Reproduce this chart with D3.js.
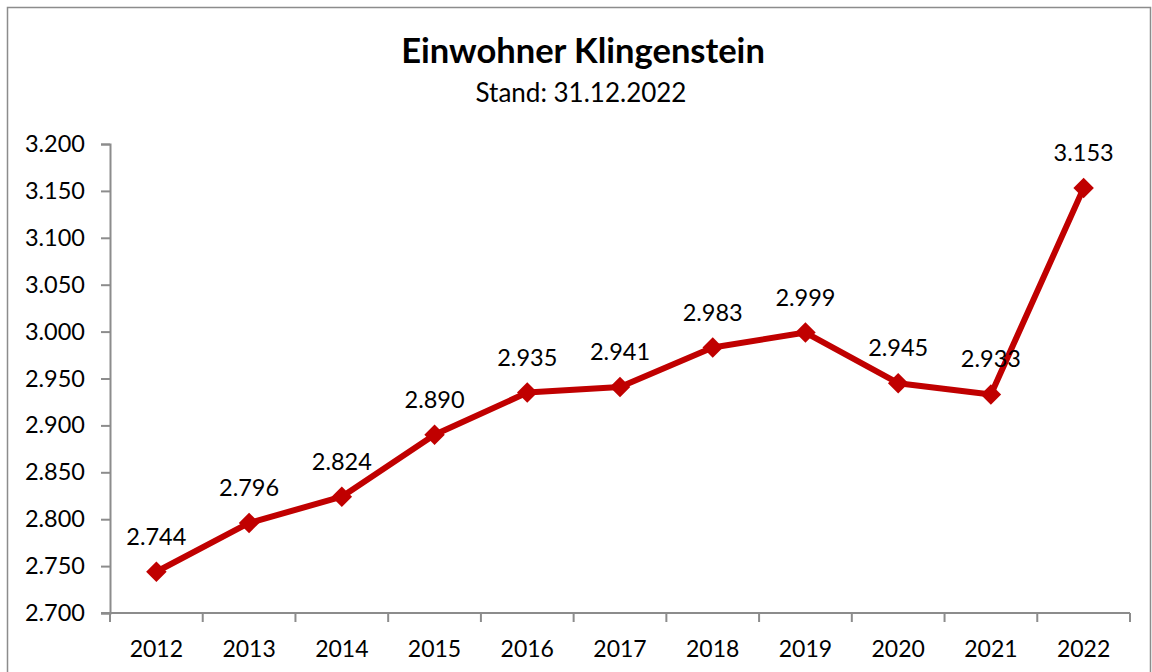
<!DOCTYPE html>
<html>
<head>
<meta charset="utf-8">
<script src="https://cdn.jsdelivr.net/npm/d3@7"></script>
<style>
  body { margin: 0; background: #fff; }
  svg text { font-family: Lato, "Open Sans", sans-serif; fill: #000; }
</style>
</head>
<body>
<script>
// data
var years = ["2012", "2013", "2014", "2015", "2016", "2017", "2018", "2019", "2020", "2021", "2022"];
var einwohner = [2744, 2796, 2824, 2890, 2935, 2941, 2983, 2999, 2945, 2933, 3153];
var yTicks = [2700, 2750, 2800, 2850, 2900, 2950, 3000, 3050, 3100, 3150, 3200];

var width = 1152, height = 672;
var margin = {left: 110, right: 22, top: 144, bottom: 59};

var svg = d3.select("body")
    .append("svg")
    .attr("width", width)
    .attr("height", height);

// outer chart frame (bottom edge is cut off in the picture)
svg.append("path")
    .attr("d", "M7.5," + height + "V7.5H1150.5V" + height)
    .attr("fill", "none")
    .attr("stroke", "#8c8c8c")
    .attr("stroke-width", 1.5);

var x = d3.scaleBand()
    .domain(years)
    .range([margin.left, width - margin.right]);

var y = d3.scaleLinear()
    .domain([2700, 3200])
    .range([height - margin.bottom, margin.top]);

var fmt = function(v) {
    return d3.format(",.0f")(v).replace(",", ".");
};

// title
svg.append("text")
    .attr("x", 583)
    .attr("y", 63)
    .attr("text-anchor", "middle")
    .attr("font-size", "34.5px")
    .attr("font-weight", "bold")
    .text("Einwohner Klingenstein");

svg.append("text")
    .attr("x", 581)
    .attr("y", 102)
    .attr("text-anchor", "middle")
    .attr("font-size", "26px")
    .text("Stand: 31.12.2022");

// y axis
var yAxis = d3.axisLeft(y)
    .tickValues(yTicks)
    .tickFormat(fmt)
    .tickSize(9)
    .tickPadding(16);

var gy = svg.append("g")
    .attr("transform", "translate(" + margin.left + ",0)")
    .call(yAxis);
gy.select(".domain").attr("stroke", "#8c8c8c").attr("stroke-width", 2);
gy.selectAll(".tick line").attr("stroke", "#8c8c8c").attr("stroke-width", 2);
gy.selectAll(".tick text").attr("font-size", "23.5px").attr("font-family", "Lato");

// x axis, ticks sit between categories
var xEdges = years.map(function(d) { return x(d); }).concat([x.range()[1]]);
var gx = svg.append("g")
    .attr("transform", "translate(0," + y(2700) + ")");
gx.append("line")
    .attr("x1", margin.left - 9)
    .attr("x2", x.range()[1])
    .attr("stroke", "#8c8c8c")
    .attr("stroke-width", 2);
gx.selectAll(".xtick")
    .data(xEdges)
    .enter()
    .append("line")
    .attr("x1", function(d) { return d; })
    .attr("x2", function(d) { return d; })
    .attr("y1", 0)
    .attr("y2", 9)
    .attr("stroke", "#8c8c8c")
    .attr("stroke-width", 2);
gx.selectAll(".xlabel")
    .data(years)
    .enter()
    .append("text")
    .attr("x", function(d) { return x(d) + x.bandwidth() / 2; })
    .attr("y", 44)
    .attr("text-anchor", "middle")
    .attr("font-size", "23px")
    .text(function(d) { return d; });

var pts = years.map(function(d, i) {
    return {year: d, value: einwohner[i]};
});

var line = d3.line()
    .x(function(d) { return x(d.year) + x.bandwidth() / 2; })
    .y(function(d) { return y(d.value); });

svg.append("path")
    .datum(pts)
    .attr("d", line)
    .attr("fill", "none")
    .attr("stroke", "#c00000")
    .attr("stroke-width", 6)
    .attr("stroke-linejoin", "round");

var diamond = d3.symbol().type(d3.symbolSquare).size(210);
svg.selectAll(".marker")
    .data(pts)
    .enter()
    .append("path")
    .attr("d", diamond)
    .attr("fill", "#c00000")
    .attr("transform", function(d) {
        return "translate(" + (x(d.year) + x.bandwidth() / 2) + "," + y(d.value) + ") rotate(45)";
    });

svg.selectAll(".label")
    .data(pts)
    .enter()
    .append("text")
    .attr("x", function(d) { return x(d.year) + x.bandwidth() / 2; })
    .attr("y", function(d) { return y(d.value) - 27; })
    .attr("text-anchor", "middle")
    .attr("font-size", "23.5px")
    .text(function(d) { return fmt(d.value); });
</script>
</body>
</html>
